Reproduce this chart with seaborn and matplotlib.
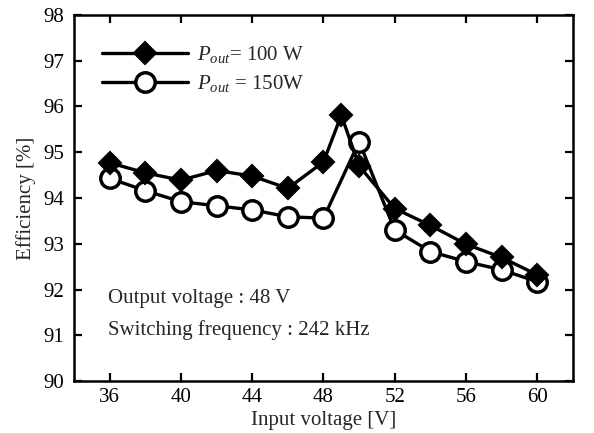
import matplotlib
matplotlib.use("Agg")
import matplotlib.pyplot as plt
import seaborn as sns
import pandas as pd

voltage_100 = [36, 38, 40, 42, 44, 46, 48, 49, 50, 52, 54, 56, 58, 60]
eff_100 = [94.77, 94.55, 94.39, 94.60, 94.48, 94.21, 94.79, 95.81, 94.70, 93.77, 93.40, 92.99, 92.70, 92.32]
voltage_150 = [36, 38, 40, 42, 44, 46, 48, 50, 52, 54, 56, 58, 60]
eff_150 = [94.43, 94.16, 93.92, 93.83, 93.74, 93.59, 93.56, 95.23, 93.30, 92.83, 92.61, 92.43, 92.17]
x_ticks = [36, 40, 44, 48, 52, 56, 60]
y_ticks = [90, 91, 92, 93, 94, 95, 96, 97, 98]

sns.set_style("ticks")
plt.rcParams['font.family'] = ['Liberation Serif', 'DejaVu Serif']
plt.rcParams['mathtext.fontset'] = 'custom'
plt.rcParams['mathtext.rm'] = 'Liberation Serif'
plt.rcParams['mathtext.it'] = 'Liberation Serif:italic'

FS = 15

fig = plt.figure(figsize=(5.94, 4.33), dpi=100)
ax = fig.add_axes([0.1246, 0.120, 0.840, 0.8454])

df100 = pd.DataFrame({"v": voltage_100, "e": eff_100})
df150 = pd.DataFrame({"v": voltage_150, "e": eff_150})

sns.lineplot(data=df100, x="v", y="e", ax=ax, color="black", linewidth=2.4,
             marker="D", markersize=11, markerfacecolor="black", markeredgecolor="black",
             markeredgewidth=1.5, label=r"$P_{out}$= 100 W", zorder=3)
sns.lineplot(data=df150, x="v", y="e", ax=ax, color="black", linewidth=2.4,
             marker="o", markersize=14, markerfacecolor="white", markeredgecolor="black",
             markeredgewidth=2.5, label=r"$P_{out}$ = 150W", zorder=2)

ax.set_xlim(34, 62)
ax.set_ylim(90, 98)
ax.set_xticks(x_ticks)
ax.set_yticks(y_ticks)
ax.tick_params(direction="in", length=6, width=1.6, top=True, right=True,
               labelsize=FS, colors="black", pad=5)
ax.tick_params(axis="y", pad=7)
ax.set_xticklabels([str(t) for t in x_ticks])
ax.set_yticklabels([str(t) for t in y_ticks])
for s in ax.spines.values():
    s.set_linewidth(1.8)
    s.set_color("black")

ax.set_xlabel("Input voltage [V]", fontsize=FS, labelpad=3)
ax.set_ylabel("Efficiency [%]", fontsize=FS, labelpad=5)

ax.text(35.9, 91.81, "Output voltage : 48 V", fontsize=FS, va="center", ha="left")
ax.text(35.9, 91.11, "Switching frequency : 242 kHz", fontsize=FS, va="center", ha="left")

leg = ax.legend(loc="upper left", bbox_to_anchor=(0.032, 0.955), frameon=False,
                fontsize=FS, handlelength=4.1, handletextpad=0.45, labelspacing=0.38,
                borderaxespad=0.2)

fig.savefig("out.png", dpi=100)
